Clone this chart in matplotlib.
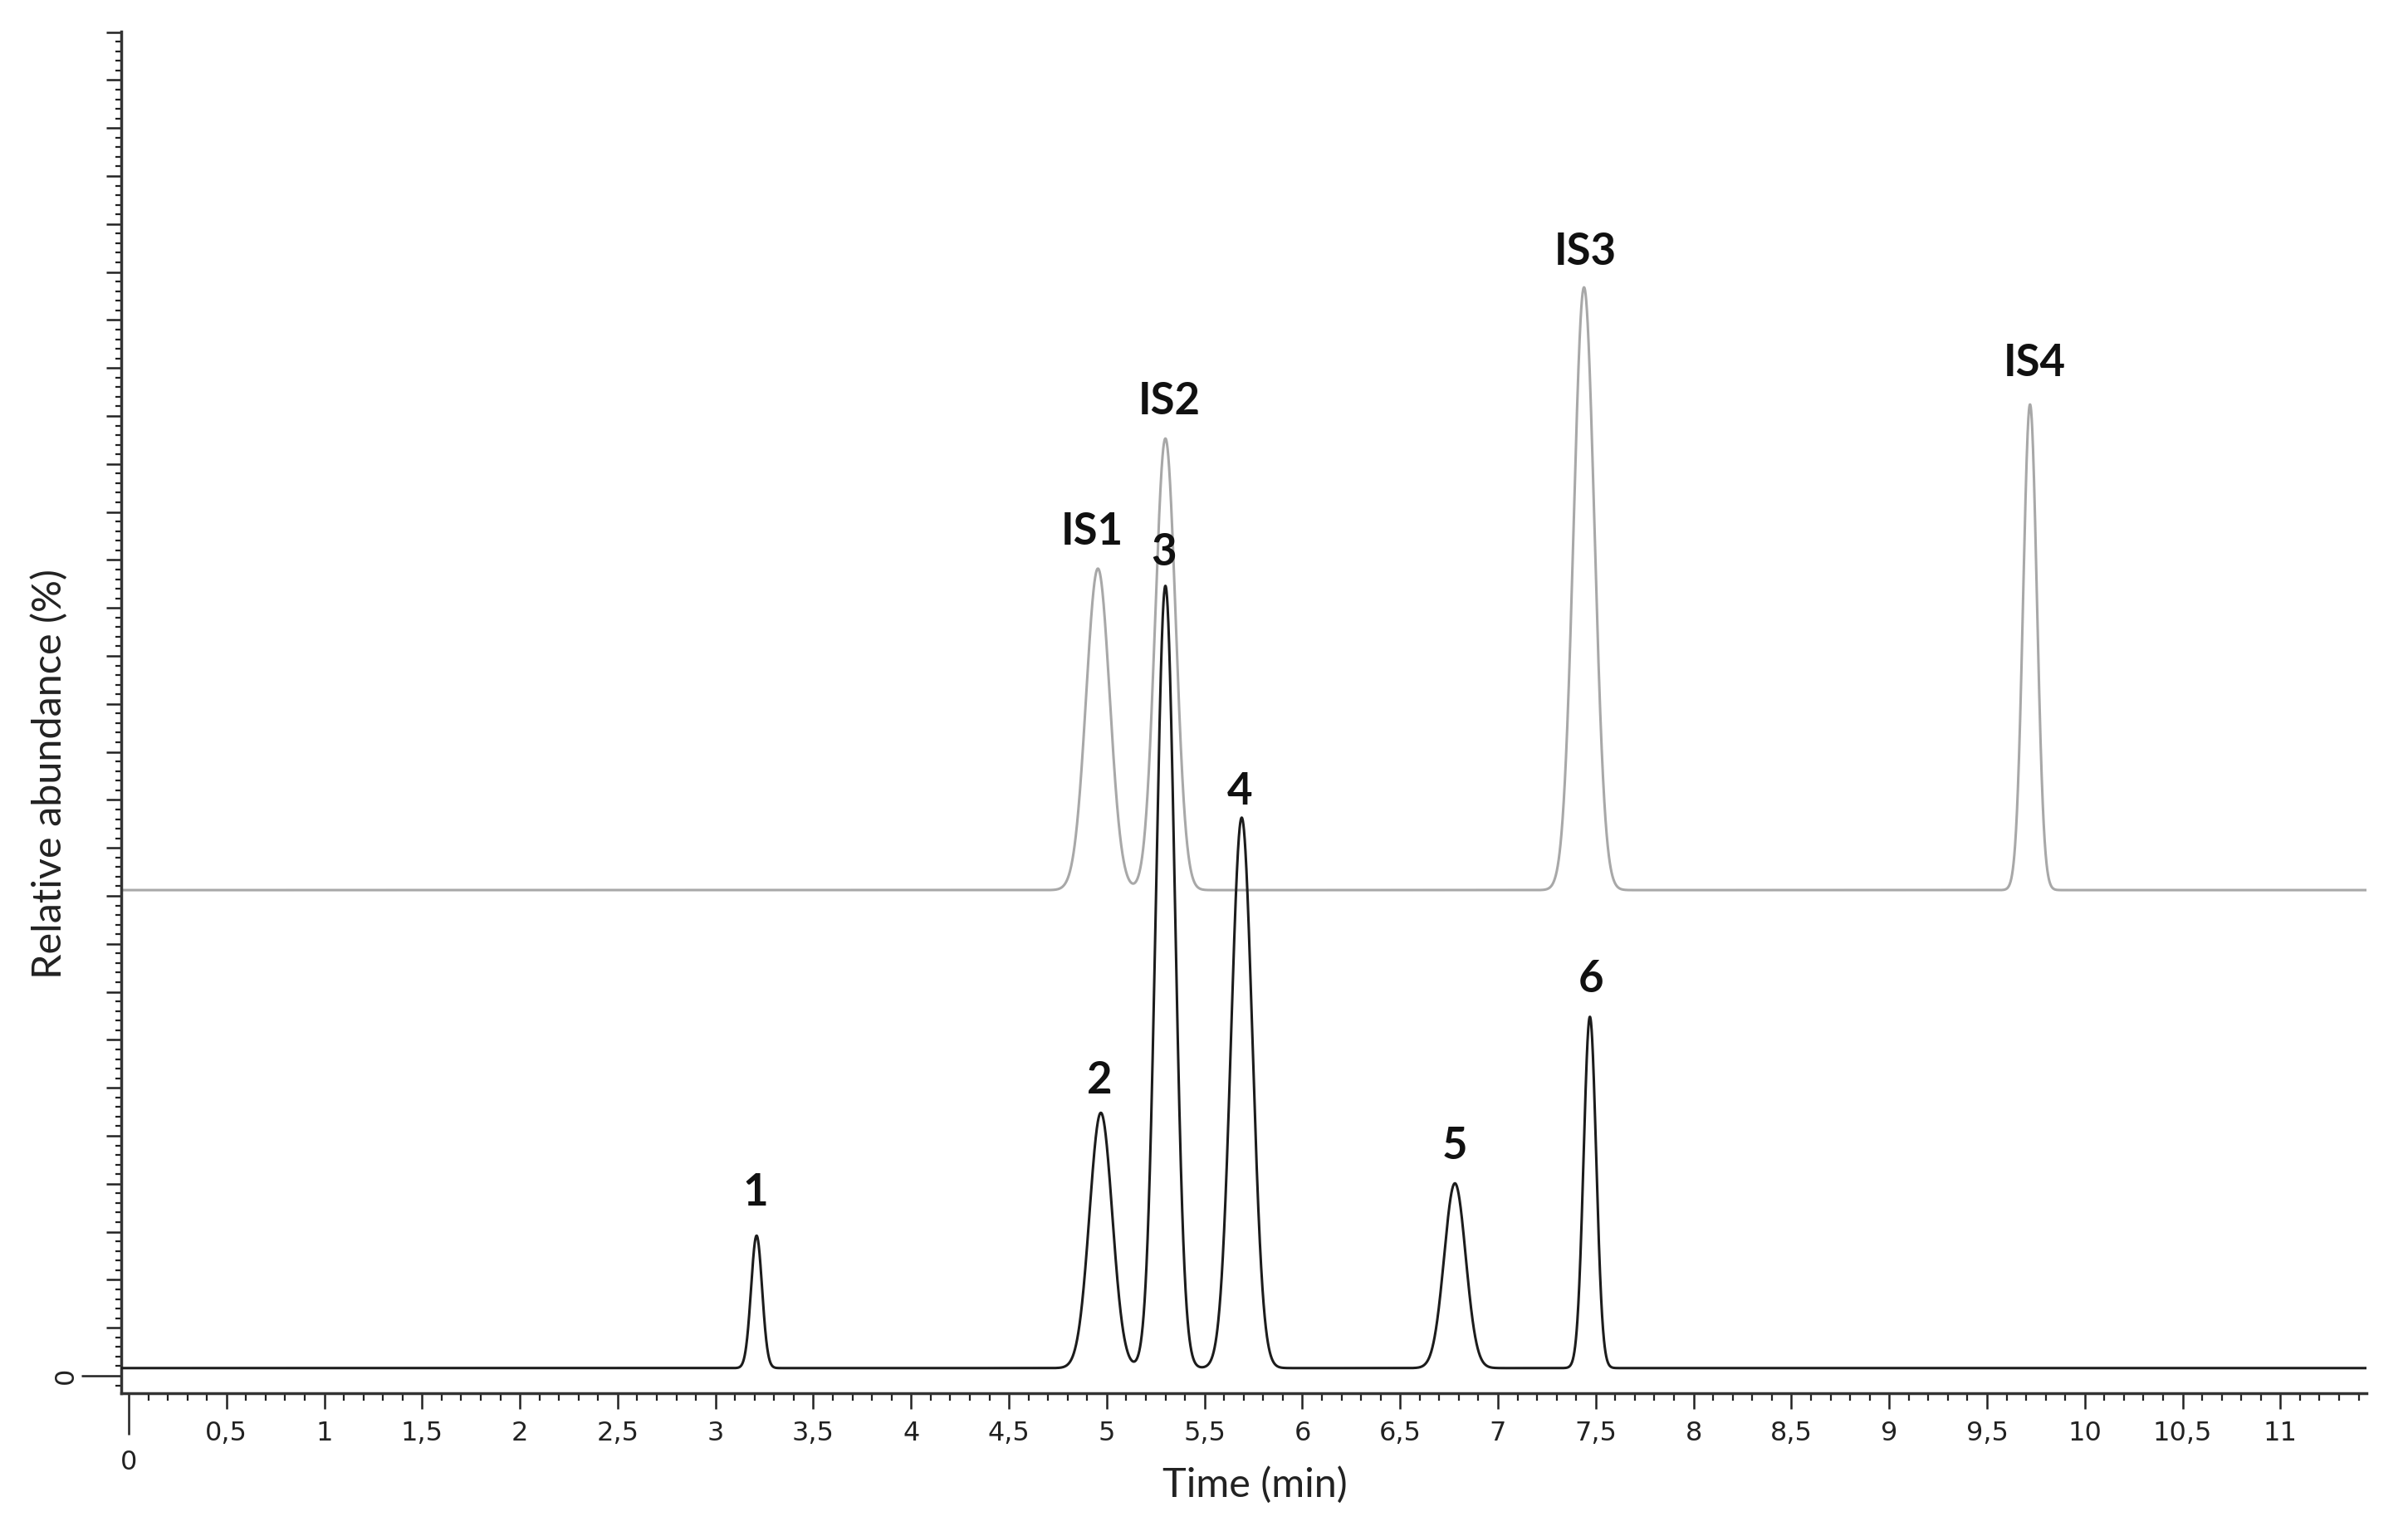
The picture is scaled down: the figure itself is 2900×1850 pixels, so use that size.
import numpy as np
import matplotlib.pyplot as plt
from matplotlib.ticker import MultipleLocator

# black trace: analytes 1-6 (retention time in min, height above baseline, peak sigma)
black_rt = [3.21, 4.97, 5.30, 5.69, 6.78, 7.47]
black_height = [2.76, 5.32, 16.30, 11.47, 3.85, 7.32]
black_sigma = [0.028, 0.058, 0.048, 0.054, 0.055, 0.032]
black_base = 0.16
black_labels = ['1', '2', '3', '4', '5', '6']
black_label_x = [3.205, 4.962, 5.293, 5.679, 6.781, 7.475]
black_label_y = [3.54, 5.88, 16.88, 11.90, 4.51, 7.99]

# grey trace: internal standards
gray_rt = [4.955, 5.30, 7.44, 9.72]
gray_height = [6.70, 9.41, 12.56, 10.12]
gray_sigma = [0.060, 0.052, 0.053, 0.035]
gray_base = 10.12
gray_labels = ['IS1', 'IS2', 'IS3', 'IS4']
gray_label_x = [4.924, 5.322, 7.445, 9.745]
gray_label_y = [17.32, 20.03, 23.15, 20.83]

x_lo, x_hi = -0.038, 11.44
y_lo, y_hi = -0.363, 28.01

title_font = ['Lato', 'DejaVu Sans']
tick_font = ['Liberation Sans Narrow', 'DejaVu Sans']

t = np.linspace(x_lo, x_hi, 12000)

def trace(base, rts, heights, sigmas):
    y = np.full_like(t, base)
    for rt, h, s in zip(rts, heights, sigmas):
        y += h * np.exp(-0.5 * ((t - rt) / s) ** 2)
    return y

fig = plt.figure(figsize=(29, 18.5), dpi=100)
ax = fig.add_axes([146/2900, 1 - 1678/1850, (2850-146)/2900, (1678-38)/1850])

ax.plot(t, trace(gray_base, gray_rt, gray_height, gray_sigma), color='#a8a8a8', lw=2.2, zorder=2)
ax.plot(t, trace(black_base, black_rt, black_height, black_sigma), color='#1c1c1c', lw=2.2, zorder=3)

for lab, x, y in zip(gray_labels + black_labels, gray_label_x + black_label_x, gray_label_y + black_label_y):
    ax.text(x, y, lab, ha='center', va='baseline', fontsize=38, fontweight='bold',
            family=title_font, color='#111111', zorder=4)

ax.set_xlim(x_lo, x_hi)
ax.set_ylim(y_lo, y_hi)

for s in ['top', 'right']:
    ax.spines[s].set_visible(False)
for s in ['left', 'bottom']:
    ax.spines[s].set_linewidth(2.5)
    ax.spines[s].set_color('#333333')

# x axis ticks
xt = np.arange(0, 11.01, 0.5)
ax.set_xticks(xt, [f'{v:g}'.replace('.', ',') for v in xt])
ax.xaxis.set_minor_locator(MultipleLocator(0.1))
ax.tick_params(axis='x', which='major', direction='out', length=13.7, width=1.8, pad=10,
               labelsize=23, colors='#222222')
ax.tick_params(axis='x', which='minor', direction='out', length=6.5, width=1.6, colors='#222222')
for lab in ax.get_xticklabels():
    lab.set_family(tick_font)

# y axis ticks: only zero is labelled
yt = np.arange(0, 29, 1)
ax.set_yticks(yt, ['0'] + [''] * (len(yt) - 1))
ax.yaxis.set_minor_locator(MultipleLocator(0.2))
ax.tick_params(axis='y', which='major', direction='out', length=13, width=1.8, pad=24,
               labelsize=23, labelrotation=90, colors='#222222')
ax.tick_params(axis='y', which='minor', direction='out', length=5, width=1.6, colors='#222222')
for lab in ax.get_yticklabels():
    lab.set_family(tick_font)
    lab.set_verticalalignment('center')

# the zero ticks are drawn longer, with their labels further out
zx = ax.xaxis.get_major_ticks()[0]
zx.set_pad(35)
zx.tick1line.set_markersize(36)
zy = ax.yaxis.get_major_ticks()[0]
zy.tick1line.set_markersize(34.5)

ax.set_xlabel('Time (min)', fontsize=35, family=title_font, color='#222222')
ax.xaxis.set_label_coords(0.505, -0.054)
ax.set_ylabel('Relative abundance (%)', fontsize=35, family=title_font, color='#222222')
ax.yaxis.set_label_coords(-0.0237, 0.455)

fig.savefig('out.png', dpi=100, facecolor='white')
